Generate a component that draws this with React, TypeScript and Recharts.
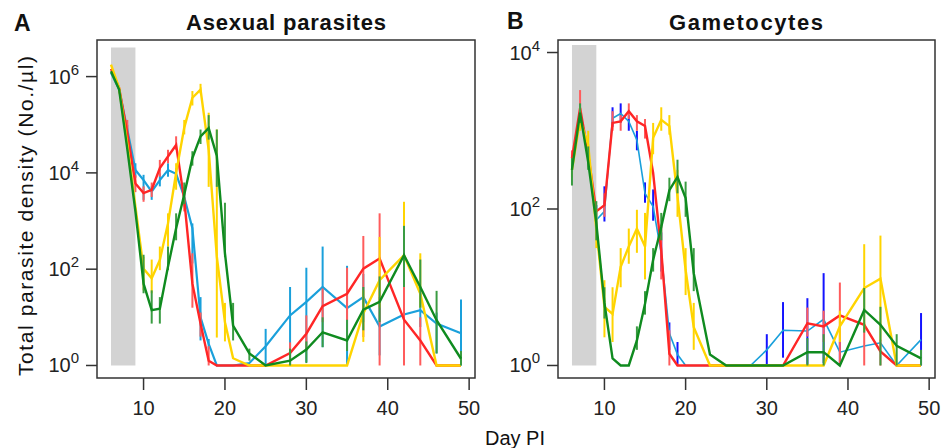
import { LineChart, Line, XAxis, YAxis, ErrorBar, ReferenceArea } from 'recharts'

// sampling days post infection
const days = [6, 7, 8, 9, 10, 11, 12, 13, 14, 15, 16, 17, 18, 19, 20, 21, 23, 25, 28, 30, 32, 35, 37, 39, 42, 44, 46, 49]

type Err = [number, number] | null

// values are log10 densities (floor at 10^0)
const asexBlue = [6.08, 5.73, 4.9, 4.06, 3.85, 3.61, 3.85, 4.06, 3.98, 3.5, 2.85, 1.0, 0.45, 0, 0, 0, 0.05, 0.4, 1.04, 1.32, 1.63, 1.19, 1.42, 0.81, 1.06, 1.15, 0.87, 0.67]
const asexRed = [6.16, 5.76, 4.83, 3.78, 3.58, 3.65, 4.1, 4.34, 4.58, 3.44, 1.7, 0.87, 0.1, 0, 0, 0, 0, 0, 0.26, 0.66, 1.23, 1.49, 2.01, 2.22, 0.95, 0.52, 0, 0]
const asexYellow = [6.25, 5.76, 4.6, 3.3, 2.01, 1.81, 2.19, 2.95, 4.0, 4.94, 5.56, 5.73, 4.48, 2.26, 0.9, 0.15, 0, 0, 0, 0, 0, 0, 1.08, 1.77, 2.29, 1.49, 0, 0]
const asexGreen = [6.11, 5.73, 4.5, 3.2, 1.7, 1.15, 1.18, 2.05, 2.85, 3.55, 4.31, 4.76, 4.93, 4.35, 2.33, 0.83, 0.25, 0, 0.1, 0.33, 0.69, 0.52, 1.16, 1.32, 2.29, 1.63, 0.94, 0.14]

// error bars as [low, high] in log10
const asexBlueErr: Err[] = [null, null, [4.7, 5.0], [3.9, 4.2], [3.44, 3.96], [3.44, 3.72], [3.72, 3.99], [3.92, 4.2], [3.8, 4.1], [3.3, 3.7], [2.12, 2.95], [0.52, 1.42], [0.35, 0.55], null, null, null, null, [0, 0.76], [0, 1.63], [0.07, 2.03], [0.38, 2.47], [0, 2.07], [0.9, 1.9], [0.21, 1.42], [0.7, 1.4], [0.8, 1.5], [0.25, 1.1], [0, 1.37]]
const asexRedErr: Err[] = [null, null, [4.5, 5.1], [3.6, 3.95], [3.4, 3.72], [3.5, 3.8], [3.92, 4.27], [4.2, 4.48], [4.48, 4.76], [3.2, 3.7], [1.2, 2.33], [0.6, 1.1], [0, 0.4], null, null, null, null, null, [0, 0.48], [0.31, 1.04], [0.9, 1.6], [0.94, 2.03], [0.59, 2.69], [0, 3.16], [0, 1.7], [0, 1.0], null, null]
const asexYellowErr: Err[] = [null, null, null, null, [1.56, 2.26], [1.5, 2.2], [1.98, 2.47], [2.47, 3.16], [3.65, 4.2], [4.8, 5.1], [5.4, 5.7], [5.65, 5.85], [3.71, 5.25], [0.58, 4.9], [0.5, 1.3], null, null, null, null, null, null, null, [0.49, 1.56], [1.2, 2.67], [1.7, 3.4], [1.2, 2.33], null, null]
const asexGreenErr: Err[] = [null, null, null, null, [1.5, 2.3], [0.87, 1.56], [0.87, 1.42], [1.98, 2.47], [2.6, 3.16], [3.35, 3.8], [4.15, 4.45], [4.6, 4.9], [4.69, 5.2], [3.71, 4.9], [2.25, 3.38], [0.52, 1.3], [0.1, 0.35], null, [0, 0.35], [0.05, 0.5], [0.38, 1.0], [0.3, 0.95], [0.73, 1.63], [0.9, 1.85], [1.63, 2.9], [1.2, 2.2], [0.25, 1.55], [0, 0.3]]

const gamBlue = [2.6, 3.27, 2.7, 1.86, 1.97, 3.16, 3.22, 3.12, 2.88, 2.2, 2.03, 1.43, 0.41, 0.14, 0, 0, 0, 0, 0, 0.2, 0.45, 0.44, 0.59, 0.17, 0.25, 0.29, 0, 0.33]
const gamRed = [2.65, 3.29, 2.7, 1.97, 2.05, 3.1, 3.12, 3.25, 3.12, 3.06, 2.46, 1.47, 0.15, 0, 0, 0, 0, 0, 0, 0, 0, 0.54, 0.5, 0.64, 0.52, 0.18, 0, 0]
const gamYellow = [2.5, 3.14, 2.82, 1.74, 0.75, 0.66, 1.26, 1.52, 1.75, 1.52, 2.91, 3.14, 3.06, 2.16, 1.22, 0.49, 0, 0, 0, 0, 0, 0, 0, 0.5, 0.99, 1.11, 0, 0]
const gamGreen = [2.5, 3.23, 2.6, 1.82, 0.8, 0.09, 0, 0, 0.32, 0.79, 1.35, 1.77, 2.24, 2.41, 2.14, 1.18, 0.14, 0, 0, 0, 0, 0.17, 0.17, 0, 0.71, 0.52, 0.25, 0.09]

const gamBlueErr: Err[] = [null, null, null, [1.7, 2.05], [1.84, 2.29], [3.05, 3.3], [3.1, 3.35], [3.0, 3.2], [2.75, 3.0], [2.08, 2.34], [1.85, 2.25], [1.2, 1.7], [0.2, 0.55], [0, 0.3], null, null, null, null, null, [0, 0.4], [0.1, 0.81], [0, 0.86], [0.03, 1.18], [0.03, 0.3], null, null, null, [0, 0.67]]
const gamRedErr: Err[] = [[2.6, 2.75], [3.1, 3.52], null, null, [1.9, 2.2], [3.0, 3.25], [3.0, 3.2], [3.15, 3.35], [3.0, 3.2], [2.9, 3.15], null, [1.1, 1.8], [0, 0.45], null, null, null, null, null, null, null, null, [0.37, 0.74], [0.3, 0.7], [0, 1.06], [0, 0.55], [0, 0.33], null, null]
const gamYellowErr: Err[] = [[2.4, 2.6], [3.0, 3.3], [2.6, 3.0], [1.5, 2.0], [0.36, 1.09], [0.3, 1.0], [1.0, 1.5], [1.3, 1.75], [1.44, 1.99], [1.1, 1.95], [2.7, 3.1], [3.0, 3.3], [2.95, 3.2], [1.9, 2.5], [0.9, 1.5], [0.2, 0.8], null, null, null, null, null, null, null, [0.3, 0.7], [0.44, 1.55], [0.31, 1.66], null, null]
const gamGreenErr: Err[] = [[2.3, 2.65], [3.1, 3.35], [2.5, 2.8], [1.6, 2.1], [0.6, 1.0], null, null, null, [0.2, 0.5], [0.65, 0.95], [1.2, 1.5], [1.6, 1.95], [2.1, 2.4], [2.2, 2.63], [1.9, 2.35], [0.95, 1.5], null, null, null, null, null, [0, 0.35], [0, 0.4], null, [0.42, 0.99], [0, 0.75], [0, 0.4], [0, 0.2]]

const xTicks = [10, 20, 30, 40, 50]
const asexTicks = [1, 1e2, 1e4, 1e6]
const gamTicks = [1, 1e2, 1e4]

const FONT = '"Liberation Sans", Arial, Helvetica, sans-serif'
const COLORS = {
  blue: '#1aa0db',
  red: '#ff2626',
  yellow: '#ffd400',
  green: '#0f8b1f',
}

const pow10 = (v: number) => Math.pow(10, v)

function buildRows(series: Record<string, [number[], Err[]]>) {
  return days.map((day, i) => {
    const row: Record<string, any> = { day }
    Object.entries(series).forEach(([key, [vals, errs]]) => {
      const v = pow10(vals[i])
      const e = errs[i]
      row[key] = v
      row[key + 'Err'] = e ? [v - pow10(e[0]), pow10(e[1]) - v] : [0, 0]
    })
    return row
  })
}

const asexData = buildRows({
  blue: [asexBlue, asexBlueErr],
  red: [asexRed, asexRedErr],
  yellow: [asexYellow, asexYellowErr],
  green: [asexGreen, asexGreenErr],
})

const gamData = buildRows({
  blue: [gamBlue, gamBlueErr],
  red: [gamRed, gamRedErr],
  yellow: [gamYellow, gamYellowErr],
  green: [gamGreen, gamGreenErr],
})

const PowTick = (props: any) => {
  const { x, y, payload } = props
  const exp = Math.round(Math.log10(payload.value))
  return (
    <text x={x} y={y + 7} textAnchor="end" fontSize={20} fill="#222" fontFamily={FONT}>
      10
      <tspan dy={-9} fontSize={15}>{exp}</tspan>
    </text>
  )
}

interface PanelProps {
  data: Record<string, any>[]
  width: number
  yWidth: number
  right: number
  yDomain: [number, number]
  yTicks: number[]
  shadeTop: number
  blueWidth: number
  blueBar: string
}

const X_DOMAIN: [number, number] = [4.28, 50.72]

function Panel({ data, width, yWidth, right, yDomain, yTicks, shadeTop, blueWidth, blueBar }: PanelProps) {
  const barW = 2
  return (
    <LineChart width={width} height={448} data={data} margin={{ top: 40, right, bottom: 40, left: 0 }}>
      <XAxis
        type="number"
        dataKey="day"
        domain={X_DOMAIN}
        ticks={xTicks}
        allowDataOverflow
        axisLine={false}
        tickSize={12}
        tickMargin={11}
        height={30}
        tickLine={{ stroke: '#333', strokeWidth: 1.5 }}
        tick={{ fontSize: 20, fill: '#222', fontFamily: FONT }}
      />
      <YAxis
        type="number"
        scale="log"
        domain={yDomain}
        ticks={yTicks}
        allowDataOverflow
        axisLine={false}
        width={yWidth}
        tickSize={11}
        tickMargin={7}
        tickLine={{ stroke: '#333', strokeWidth: 1.5 }}
        tick={<PowTick />}
      />
      <ReferenceArea x1={6} x2={9} y1={1} y2={shadeTop} fill="#d3d3d3" fillOpacity={1} stroke="none" ifOverflow="visible" />
      <Line type="linear" dataKey="blue" stroke={COLORS.blue} strokeWidth={blueWidth} dot={false} isAnimationActive={false}>
        <ErrorBar dataKey="blueErr" width={0} stroke={blueBar} strokeWidth={barW} isAnimationActive={false} />
      </Line>
      <Line type="linear" dataKey="red" stroke={COLORS.red} strokeWidth={2.4} dot={false} isAnimationActive={false}>
        <ErrorBar dataKey="redErr" width={0} stroke="#ff5c5c" strokeWidth={barW} isAnimationActive={false} />
      </Line>
      <Line type="linear" dataKey="yellow" stroke={COLORS.yellow} strokeWidth={2.4} dot={false} isAnimationActive={false}>
        <ErrorBar dataKey="yellowErr" width={0} stroke="#ffd400" strokeWidth={barW} isAnimationActive={false} />
      </Line>
      <Line type="linear" dataKey="green" stroke={COLORS.green} strokeWidth={2.4} dot={false} isAnimationActive={false}>
        <ErrorBar dataKey="greenErr" width={0} stroke="#3a9c42" strokeWidth={barW} isAnimationActive={false} />
      </Line>
      <ReferenceArea
        x1={X_DOMAIN[0]}
        x2={X_DOMAIN[1]}
        y1={yDomain[0]}
        y2={yDomain[1]}
        fill="none"
        stroke="#333"
        strokeWidth={1.5}
        ifOverflow="visible"
      />
    </LineChart>
  )
}

export default function App() {
  return (
    <div style={{ position: 'absolute', left: 0, top: 0, width: 946, height: 448, background: '#fff' }}>
      <div style={{ position: 'absolute', left: 0, top: 0 }}>
        <Panel
          data={asexData}
          width={480}
          yWidth={97}
          right={5}
          yDomain={[pow10(-0.26), pow10(6.76)]}
          yTicks={asexTicks}
          shadeTop={4e6}
          blueWidth={2.2}
          blueBar={COLORS.blue}
        />
      </div>
      <div style={{ position: 'absolute', left: 480, top: 0 }}>
        <Panel
          data={gamData}
          width={466}
          yWidth={78}
          right={11}
          yDomain={[pow10(-0.16), pow10(4.16)]}
          yTicks={gamTicks}
          shadeTop={1.25e4}
          blueWidth={1.6}
          blueBar="#1414ff"
        />
      </div>

      {/* titles and axis labels */}
      <svg
        width={946}
        height={448}
        style={{ position: 'absolute', left: 0, top: 0, pointerEvents: 'none' }}
        fontFamily={FONT}
        fill="#111"
      >
        <text x={14} y={31} fontSize={23} fontWeight="bold">A</text>
        <text x={286} y={30} fontSize={22} fontWeight="bold" textAnchor="middle" textLength={200} lengthAdjust="spacing">
          Asexual parasites
        </text>
        <text x={507} y={29} fontSize={23} fontWeight="bold">B</text>
        <text x={746} y={30} fontSize={22} fontWeight="bold" textAnchor="middle" textLength={154} lengthAdjust="spacing">
          Gametocytes
        </text>
        <text x={515} y={445} fontSize={20} textAnchor="middle">Day PI</text>
        <text
          x={0}
          y={0}
          fontSize={21}
          textAnchor="middle"
          textLength={320}
          lengthAdjust="spacing"
          transform="translate(33 216) rotate(-90)"
        >
          Total parasite density (No./µl)
        </text>
      </svg>
    </div>
  )
}
